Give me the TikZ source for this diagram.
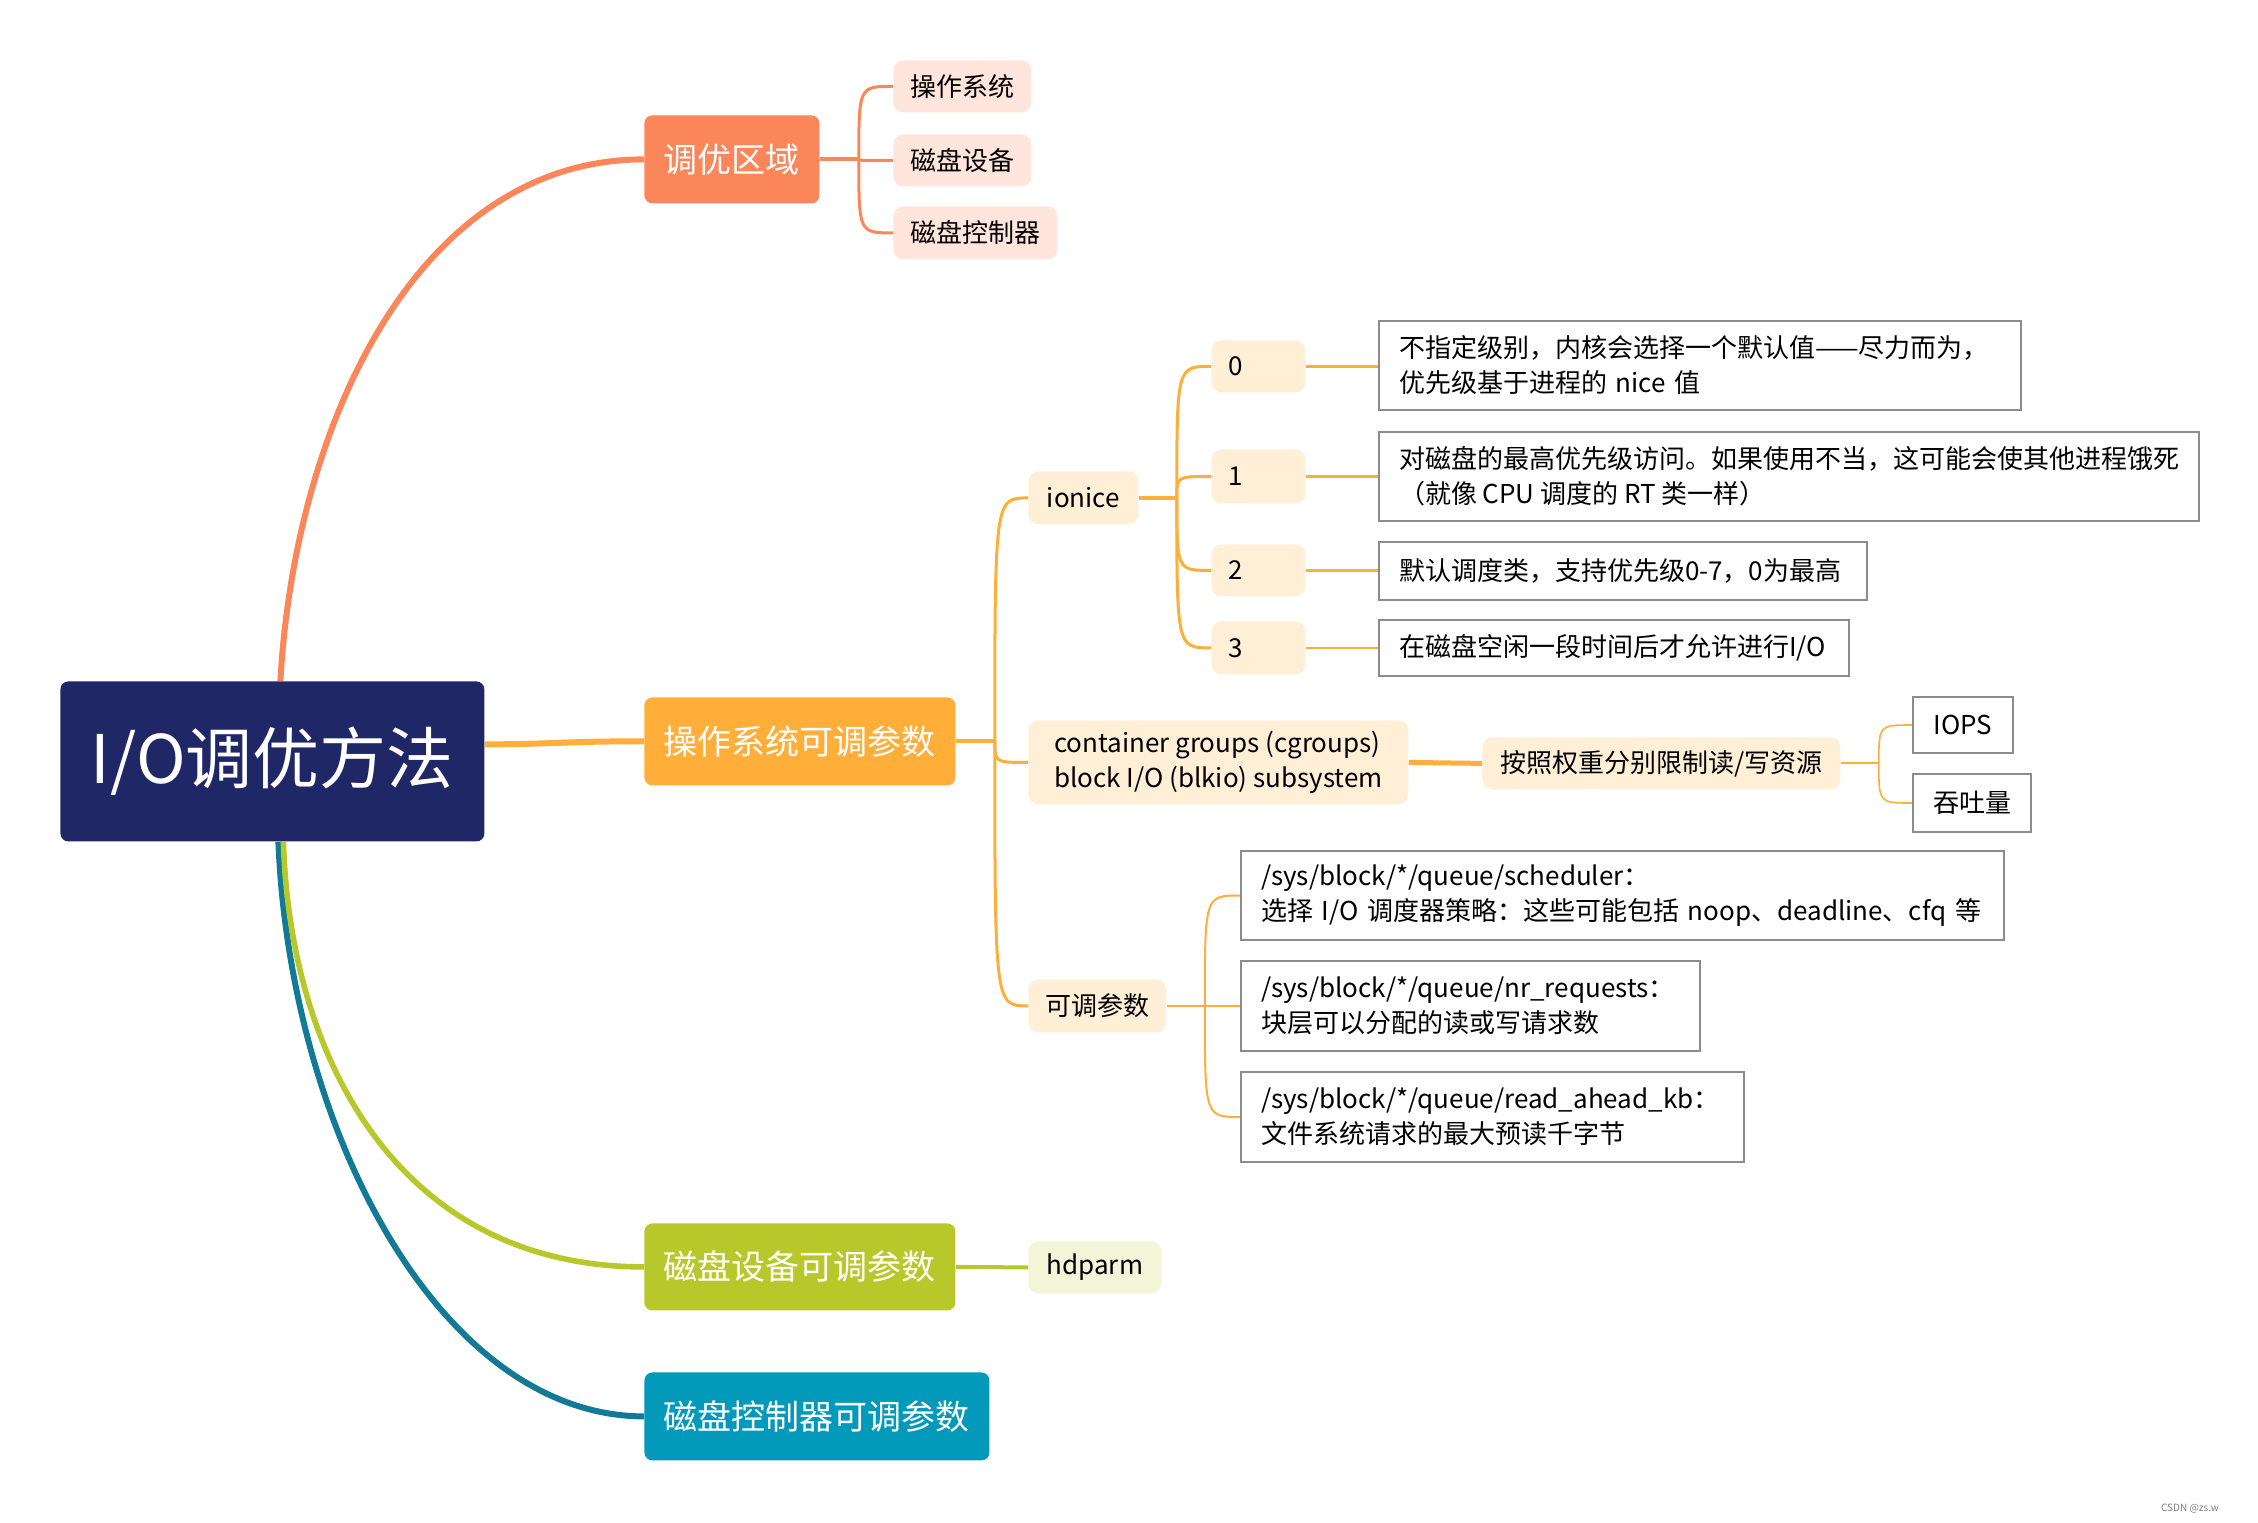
\documentclass[tikz,border=0pt]{standalone}
\usepackage{fontspec}
\setmainfont{Noto Sans CJK SC}
\usetikzlibrary{calc}
\definecolor{navy}{HTML}{1F2766}
\definecolor{coral}{HTML}{FA8659}
\definecolor{orng}{HTML}{FFAE39}
\definecolor{lime}{HTML}{B8C82A}
\definecolor{tealn}{HTML}{0399BA}
\definecolor{teall}{HTML}{127A96}
\definecolor{lcoral}{HTML}{FFE5DB}
\definecolor{lorng}{HTML}{FFEFD7}
\definecolor{llime}{HTML}{F2F5D8}
\definecolor{boxgray}{HTML}{8C8C8C}
\begin{document}
\begin{tikzpicture}[x=0.5pt,y=-0.5pt,
  every node/.style={inner sep=0pt, anchor=north west},
  rootn/.style={fill=navy, text=white, rounded corners=4pt, font=\fontsize{33.5}{40}\selectfont, align=center},
  mainn/.style={rounded corners=4pt, text=white, inner xsep=9.5pt, font=\fontsize{17}{20}\selectfont, align=center},
  subn/.style={rounded corners=5pt, text=black, inner xsep=8.5pt, font=\fontsize{13}{17.5}\selectfont, align=center},
  numn/.style={rounded corners=5pt, fill=lorng, text=black, inner xsep=8.5pt, text width=30pt, align=left, minimum width=47pt, font=\fontsize{13}{17.5}\selectfont},
  txtbox/.style={draw=boxgray, line width=1pt, fill=white, inner xsep=10pt, align=left, font=\fontsize{13}{17.5}\selectfont},
  trunk/.style={line width=3pt},
  fork/.style={line width=1.5pt, orng},
  thin/.style={line width=1pt, orng}
]
\useasboundingbox (0,0) rectangle (2258,1522);

% root and main branches
\node[rootn, minimum width=212pt, minimum height=80pt] (root) at (60,681) {I/O调优方法};
\node[mainn, fill=coral, minimum width=87.5pt, minimum height=44pt] (zone) at (644,115) {调优区域};
\node[mainn, fill=orng, minimum width=155.5pt, minimum height=44pt] (os) at (644,697) {操作系统可调参数};
\node[mainn, fill=lime, minimum width=155.5pt, minimum height=43.5pt] (dev) at (644,1223) {磁盘设备可调参数};
\node[mainn, fill=tealn, minimum width=172.5pt, minimum height=44pt] (ctl) at (644,1372) {磁盘控制器可调参数};

% children of zone
\node[subn, fill=lcoral, minimum width=69pt, minimum height=26pt] (z1) at (893,60) {操作系统};
\node[subn, fill=lcoral, minimum width=69pt, minimum height=26pt] (z2) at (893,134) {磁盘设备};
\node[subn, fill=lcoral, minimum width=82pt, minimum height=26.5pt] (z3) at (893,206) {磁盘控制器};

% children of os
\node[subn, fill=lorng, minimum width=55pt, minimum height=26.5pt] (ionice) at (1028,471) {ionice};
\node[subn, fill=lorng, align=left, inner xsep=9.5pt, minimum width=190pt, minimum height=42pt] (cg) at (1028,720) {container groups (cgroups)\\block I/O (blkio) subsystem};
\node[subn, fill=lorng, minimum width=69pt, minimum height=26.5pt] (kp) at (1028,979) {可调参数};

% child of dev
\node[subn, fill=llime, minimum width=66.5pt, minimum height=26pt] (hd) at (1028,1241) {hdparm};

% ionice classes
\node[numn, minimum height=26pt] (n0) at (1211,340) {0};
\node[numn, minimum height=27pt] (n1) at (1211,449) {1};
\node[numn, minimum height=26pt] (n2) at (1211,544) {2};
\node[numn, minimum height=26.5pt] (n3) at (1211,621) {3};

\node[txtbox, text width=301pt, minimum height=44.5pt] (b0) at (1378,320) {不指定级别，内核会选择一个默认值——尽力而为，\\优先级基于进程的 nice 值};
\node[txtbox, minimum height=44.5pt] (b1) at (1378,431) {对磁盘的最高优先级访问。如果使用不当，这可能会使其他进程饿死\\（就像 CPU 调度的 RT 类一样）};
\node[txtbox, text width=224pt, minimum height=29pt] (b2) at (1378,541) {默认调度类，支持优先级0-7，0为最高};
\node[txtbox, text width=215pt, minimum height=28pt] (b3) at (1378,619) {在磁盘空闲一段时间后才允许进行I/O};

% cgroups children
\node[subn, fill=lorng, minimum width=179pt, minimum height=26pt] (wt) at (1482,737) {按照权重分别限制读/写资源};
\node[txtbox, align=center, inner xsep=8pt, minimum width=50pt, minimum height=28pt] (iops) at (1912,696) {IOPS};
\node[txtbox, align=center, inner xsep=8pt, minimum width=59pt, minimum height=29pt] (tt) at (1912,773) {吞吐量};

% tunable params
\node[txtbox, text width=361.5pt, minimum height=44.5pt] (s1) at (1240,850) {/sys/block/*/queue/scheduler：\\选择 I/O 调度器策略：这些可能包括 noop、deadline、cfq 等};
\node[txtbox, text width=209.5pt, minimum height=45pt] (s2) at (1240,960) {/sys/block/*/queue/nr\_requests：\\块层可以分配的读或写请求数};
\node[txtbox, text width=231.5pt, minimum height=45pt] (s3) at (1240,1071) {/sys/block/*/queue/read\_ahead\_kb：\\文件系统请求的最大预读千字节};

\node[anchor=center, text=gray, font=\fontsize{5}{6}\selectfont] (wm) at (2190,1509) {CSDN @zs.w};

% trunk connectors
\draw[trunk, coral] ($(root.north)+(8,0)$) .. controls (295,420) and (420,159) .. (zone.west);
\draw[trunk, orng] ($(root.east)+(0,-17)$) .. controls (560,744) and (570,741) .. (os.west);
\draw[trunk, teall] ($(root.south)+(6,0)$) .. controls (290,1130) and (440,1416) .. (ctl.west);
\draw[trunk, lime, line width=2.8pt] ($(root.south)+(11,0)$) .. controls (290,1060) and (400,1267) .. (dev.west);

% zone forks
\coordinate (zj) at ($(zone.east)+(39,0)$);
\draw[fork, coral, line width=2pt] (zone.east) -- (zj);
\foreach \c in {z1,z2,z3}
  \draw[fork, coral] (zj) .. controls (zj |- \c.west) .. (\c.west);

% os forks
\coordinate (oj) at ($(os.east)+(39,0)$);
\draw[fork, line width=2pt] (os.east) -- (oj);
\foreach \c in {ionice,cg,kp}
  \draw[fork] (oj) .. controls (oj |- \c.west) .. (\c.west);

% ionice forks
\coordinate (ij) at ($(ionice.east)+(38,0)$);
\draw[fork, line width=2.2pt] (ionice.east) -- (ij);
\foreach \c in {n0,n1,n2,n3}
  \draw[fork] (ij) .. controls (ij |- \c.west) .. (\c.west);

\foreach \a/\b in {n0/b0,n1/b1,n2/b2,n3/b3}
  \draw[thin, line width=1.2pt] (\a.east) -- (\a.east -| \b.west);

% cgroups
\draw[fork, line width=2.5pt] (cg.east) -- (wt.west);
\coordinate (wj) at ($(wt.east)+(38,0)$);
\draw[thin] (wt.east) -- (wj);
\foreach \c in {iops,tt}
  \draw[thin, line width=0.8pt] (wj) .. controls (wj |- \c.west) .. (\c.west);

% tunable params forks
\coordinate (kj) at ($(kp.east)+(38,0)$);
\draw[thin, line width=1.3pt] (kp.east) -- (kj);
\foreach \c in {s1,s2,s3}
  \draw[thin] (kj) .. controls (kj |- \c.west) .. (\c.west);

% dev
\draw[lime, line width=2pt] (dev.east) -- (hd.west);
\end{tikzpicture}
\end{document}
